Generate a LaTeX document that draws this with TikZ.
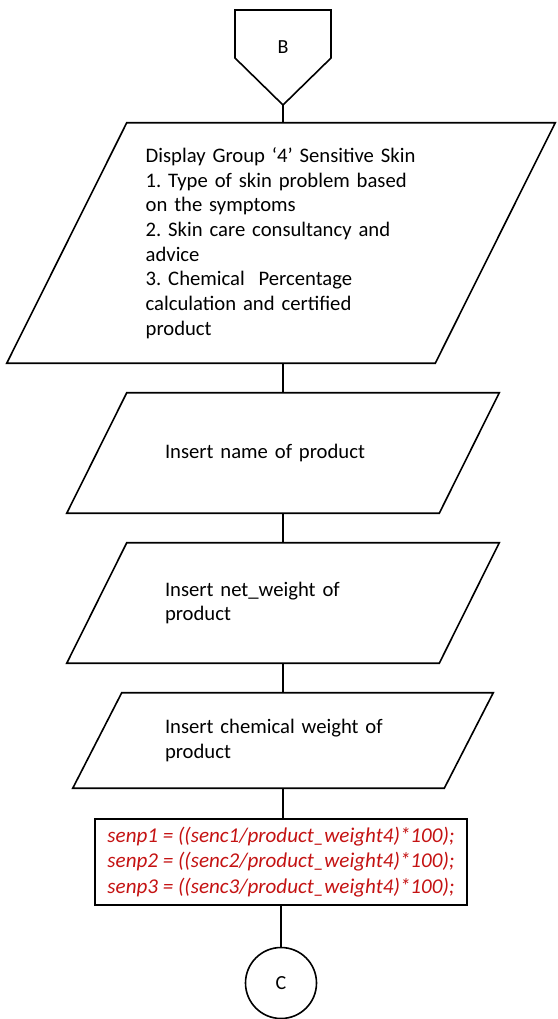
\documentclass[tikz,border=0pt]{standalone}
\usepackage{fontspec}
\setmainfont{Carlito}
\usepackage{tikz}
\usetikzlibrary{positioning,calc}
\definecolor{formulared}{RGB}{196,18,18}
\frenchspacing

% parallelogram round a (rectangular) node: #1 node name, #2 slant in px
\newcommand{\drawio}[2]{%
  \draw[flowline] ($(#1.north west)+(#2,0)$) -- (#1.north east)
    -- ($(#1.south east)+(-#2,0)$) -- (#1.south west) -- cycle;}

\tikzset{
  flowline/.style={line width=1.2pt},
  iobox/.style={rectangle,inner sep=0pt,
    font=\fontsize{15.5pt}{18.5pt}\selectfont,align=left},
  procbox/.style={draw,line width=1.2pt,rectangle,inner sep=0pt,align=left,
    text=formulared,font=\fontsize{15.8pt}{19pt}\selectfont\itshape},
  connector/.style={draw,line width=1.2pt,circle,inner sep=0pt,
    font=\fontsize{15pt}{18pt}\selectfont}
}

\begin{document}
\begin{tikzpicture}[x=0.75pt,y=-0.75pt]
  \useasboundingbox (0,0) rectangle (557,1019);

  % off-page connector B
  \draw[flowline] (235,10) -- (331,10) -- (331,58) -- (283,105) -- (235,58) -- cycle;
  \node[font=\fontsize{15pt}{18pt}\selectfont] (labB) at (283,47) {B};
  \coordinate (Btip) at (283,105);

  \node[iobox,minimum width=411pt,minimum height=180pt,text width=203pt]
    (display) at (281,243)
    {Display Group `4' Sensitive Skin\\
     1. Type of skin problem based\\
     on the symptoms\\
     2. Skin care consultancy and\\
     advice\\
     3. Chemical\ \ Percentage\\
     calculation and certified\\
     product};
  \drawio{display}{120}

  \node[iobox,minimum width=324pt,minimum height=90pt,text width=177pt]
    (prodname) at (283,453) {Insert\ name of\ product};
  \drawio{prodname}{60}

  \node[iobox,minimum width=324pt,minimum height=90pt,text width=177pt]
    (netweight) at (283,603) {Insert net\_weight of\\ product};
  \drawio{netweight}{60}

  \node[iobox,minimum width=315pt,minimum height=71.25pt,text width=177pt]
    (chemweight) at (283,740.5) {Insert chemical weight of\\ product};
  \drawio{chemweight}{49}

  \node[procbox,minimum width=279pt,minimum height=64.5pt] (calc) at (281,862)
    {senp1 = ((senc1/product\_weight4)*100);\\
     senp2 = ((senc2/product\_weight4)*100);\\
     senp3 = ((senc3/product\_weight4)*100);};

  \node[connector,minimum size=53.25pt] (labC) at (281,983) {C};

  % flow
  \draw[flowline] (Btip) -- (Btip |- display.north);
  \draw[flowline] (Btip |- display.south) -- (prodname.north);
  \draw[flowline] (prodname.south) -- (netweight.north);
  \draw[flowline] (netweight.south) -- (chemweight.north);
  \draw[flowline] (chemweight.south) -- (chemweight.south |- calc.north);
  \draw[flowline] (calc.south) -- (labC.north);
\end{tikzpicture}
\end{document}
